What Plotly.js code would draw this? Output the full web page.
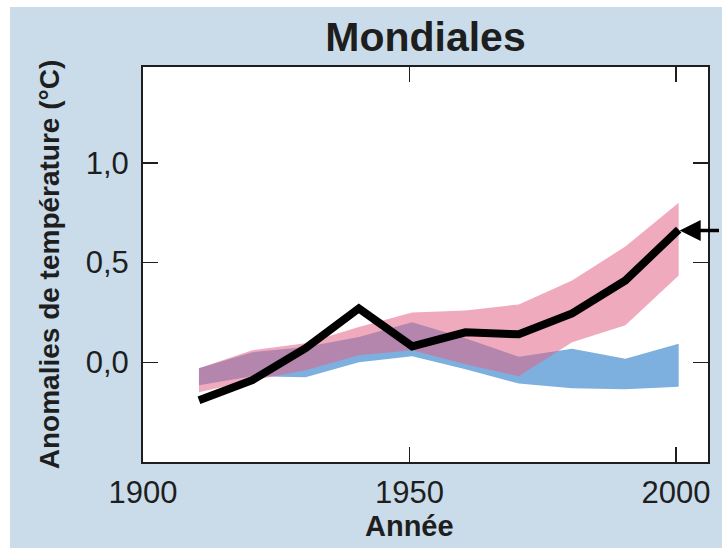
<!DOCTYPE html>
<html>
<head>
<meta charset="utf-8">
<script src="https://cdn.plot.ly/plotly-3.0.1.min.js"></script>
<style>
  html, body { margin: 0; padding: 0; background: #fff; }
  #chart { position: absolute; left: 10px; top: 7px; width: 712px; height: 541px; }
</style>
</head>
<body>
<div id="chart"></div>
<script>
(function(){
    // décennies (centre), 1906-2005
    const decades = [1910.5, 1920.5, 1930.5, 1940.5, 1950.5, 1960.5, 1970.5, 1980.5, 1990.5, 2000.5];
    // observations
    const observed = [-0.19, -0.09, 0.07, 0.27, 0.08, 0.15, 0.14, 0.245, 0.41, 0.665];
    // modèles, forçages naturels seulement (bleu)
    const naturalLow  = [-0.115, -0.07, -0.075, 0.0, 0.03, -0.035, -0.107, -0.13, -0.135, -0.123];
    const naturalHigh = [-0.03, 0.05, 0.077, 0.127, 0.20, 0.12, 0.027, 0.068, 0.018, 0.093];
    // modèles, forçages naturels et anthropiques (rose)
    const allLow  = [-0.15, -0.09, -0.04, 0.035, 0.06, -0.01, -0.07, 0.10, 0.185, 0.435];
    const allHigh = [-0.03, 0.06, 0.095, 0.177, 0.25, 0.26, 0.29, 0.41, 0.58, 0.80];

    const xTickVals = [1900, 1950, 2000];
    const xTickText = ['1900', '1950', '2000'];
    const yTickVals = [0, 0.5, 1];
    const yTickText = ['0,0', '0,5', '1,0'];

    const font = 'Liberation Sans, Arial, sans-serif';
    const ink = '#1e1e1e';

    const data = [
        {x: decades, y: naturalLow, mode: 'lines', line: {width: 0}, hoverinfo: 'skip', showlegend: false},
        {x: decades, y: naturalHigh, mode: 'lines', line: {width: 0}, fill: 'tonexty',
         fillcolor: 'rgb(125,176,222)', hoverinfo: 'skip', showlegend: false},
        {x: decades, y: allLow, mode: 'lines', line: {width: 0}, hoverinfo: 'skip', showlegend: false},
        {x: decades, y: allHigh, mode: 'lines', line: {width: 0}, fill: 'tonexty',
         fillcolor: 'rgba(226,100,135,0.55)', hoverinfo: 'skip', showlegend: false},
        {x: decades, y: observed, mode: 'lines', line: {color: '#000', width: 8}, showlegend: false}
    ];

    const axisStyle = {
        showgrid: false, zeroline: false,
        showline: true, linecolor: ink, linewidth: 2, mirror: 'ticks',
        ticks: 'inside', ticklen: 15, tickwidth: 1.5, tickcolor: ink,
        tickfont: {family: font, size: 31, color: ink}
    };

    const layout = {
        title: {text: 'Mondiales', font: {family: font, size: 41, weight: 'bold', color: ink},
                x: 0.5, xref: 'paper', y: 0.945, yref: 'container', yanchor: 'middle'},
        xaxis: Object.assign({}, axisStyle, {range: [1900, 2006], tickvals: xTickVals, ticktext: xTickText,
                ticklabelstandoff: 2}),
        yaxis: Object.assign({}, axisStyle, {range: [-0.5, 1.48], tickvals: yTickVals, ticktext: yTickText,
                ticklabelstandoff: 6,
                title: {text: 'Anomalies de température (°C)', font: {family: font, size: 28, weight: 'bold', color: ink},
                        standoff: 18}}),
        annotations: [
            {text: 'Année', xref: 'x', x: 1950, yref: 'paper', y: -0.162, yanchor: 'middle', showarrow: false,
             font: {family: font, size: 29, weight: 'bold', color: ink}},
            {text: ' ', xref: 'x', x: 2000.5, yref: 'y', y: 0.66, ax: 60, ay: 0, showarrow: true,
             arrowhead: 2, arrowsize: 1.2, arrowwidth: 3.5, arrowcolor: '#000', standoff: 1}
        ],
        margin: {l: 133, r: 14, t: 60, b: 86},
        paper_bgcolor: '#cadcea',
        plot_bgcolor: '#fff',
        width: 712,
        height: 541
    };

    Plotly.newPlot('chart', data, layout, {displayModeBar: false, staticPlot: true});
})();
</script>
</body>
</html>
